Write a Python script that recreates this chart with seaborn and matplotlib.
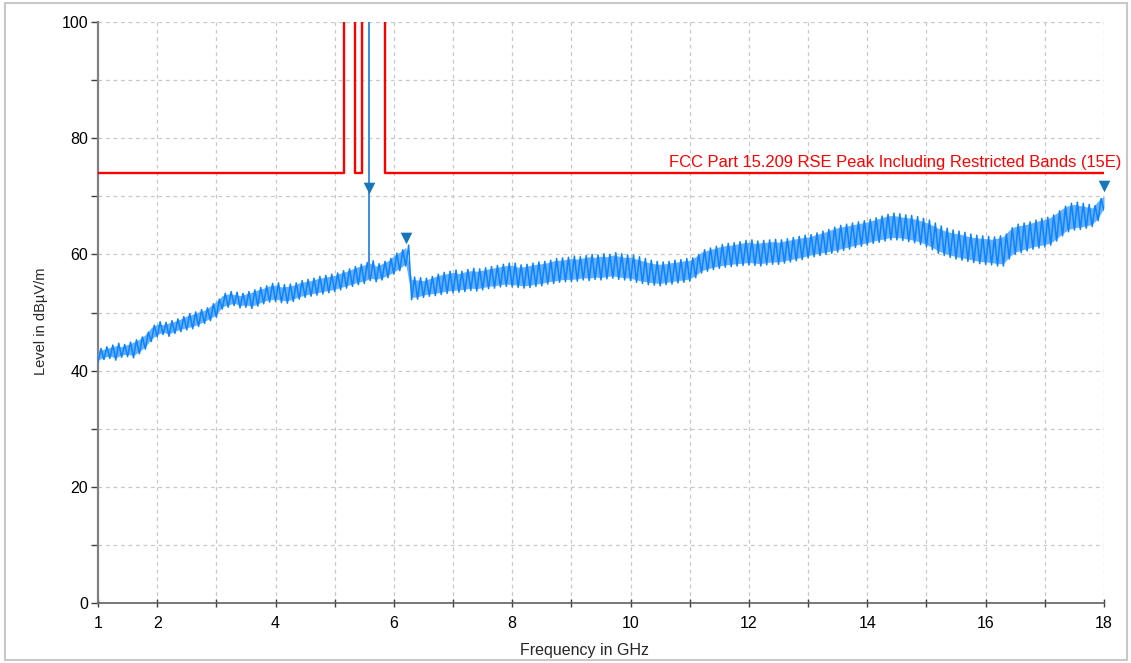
import numpy as np
import matplotlib
matplotlib.use("Agg")
import matplotlib.pyplot as plt
import seaborn as sns
from matplotlib.patches import Rectangle

# ---------------- data ----------------
# sweep grid (GHz, 0.1 GHz bins) and the per-bin min / max of the trace
freq_ghz = np.round(np.arange(1.0, 18.0001, 0.1), 1)
level_min = [
    41.4, 41.9, 42.1, 41.8, 42.3, 42.4, 42.2, 42.9, 43.7, 45.0,
    45.8, 46.2, 45.9, 46.4, 46.7, 47.0, 47.2, 47.6, 48.1, 48.6,
    49.2, 50.6, 50.9, 51.2, 50.8, 50.9, 50.7, 51.1, 51.5, 51.8,
    51.9, 51.7, 51.6, 51.9, 52.3, 52.6, 52.8, 53.0, 53.2, 53.4,
    53.6, 53.9, 54.2, 54.5, 54.8, 55.0, 55.5, 55.3, 55.6, 56.0,
    56.6, 57.2, 58.0, 52.2, 52.3, 52.6, 52.8, 52.9, 53.1, 53.3,
    53.4, 53.5, 53.6, 53.8, 53.7, 53.9, 54.1, 54.2, 54.4, 54.5,
    54.4, 54.3, 54.2, 54.3, 54.5, 54.6, 54.9, 55.0, 55.2, 55.3,
    55.3, 55.4, 55.6, 55.5, 55.7, 55.6, 55.8, 55.9, 55.7, 55.6,
    55.5, 55.2, 55.0, 54.8, 54.7, 54.6, 54.8, 54.9, 55.1, 55.2,
    55.4, 56.0, 56.8, 57.1, 57.4, 57.6, 57.8, 57.9, 58.0, 58.1,
    58.2, 58.1, 58.0, 58.2, 58.3, 58.3, 58.5, 58.7, 58.9, 59.1,
    59.4, 59.6, 59.8, 60.0, 60.2, 60.4, 60.7, 60.9, 61.2, 61.4,
    61.6, 61.9, 62.1, 62.3, 62.5, 62.5, 62.4, 62.2, 62.0, 61.7,
    61.3, 60.8, 60.2, 59.8, 59.5, 59.2, 59.0, 58.8, 58.6, 58.4,
    58.3, 58.2, 58.0, 58.0, 59.2, 60.0, 60.3, 60.6, 60.9, 61.1,
    61.3, 61.6, 62.3, 63.2, 63.9, 64.2, 64.3, 64.5, 64.8, 65.8,
    67.6,
]
level_max = [
    43.8, 44.1, 44.4, 44.7, 44.5, 44.9, 45.3, 45.8, 46.6, 47.8,
    48.4, 48.3, 48.6, 48.9, 49.3, 49.8, 50.1, 50.5, 50.8, 51.5,
    52.3, 53.3, 53.6, 53.5, 53.3, 53.6, 53.9, 54.3, 54.6, 55.0,
    55.1, 54.8, 54.9, 55.1, 55.5, 55.7, 55.9, 56.2, 56.4, 56.6,
    56.8, 57.2, 57.5, 57.9, 58.3, 58.6, 58.9, 58.4, 58.8, 59.3,
    60.2, 60.8, 61.6, 56.1, 56.0, 55.9, 56.2, 56.6, 56.9, 57.1,
    57.3, 57.1, 57.4, 57.6, 57.5, 57.7, 57.9, 58.1, 58.3, 58.5,
    58.5, 58.2, 58.3, 58.5, 58.7, 58.8, 59.0, 59.3, 59.4, 59.5,
    59.7, 59.6, 59.8, 60.0, 59.9, 60.1, 60.0, 60.3, 60.1, 59.9,
    59.9, 59.6, 59.3, 59.0, 58.8, 58.7, 58.8, 59.0, 59.1, 59.3,
    59.4, 60.0, 60.8, 61.1, 61.4, 61.7, 61.9, 62.0, 62.2, 62.4,
    62.5, 62.3, 62.4, 62.5, 62.6, 62.5, 62.7, 62.9, 63.1, 63.3,
    63.4, 63.7, 64.0, 64.3, 64.7, 65.0, 65.2, 65.4, 65.6, 65.8,
    66.0, 66.3, 66.6, 66.9, 67.1, 67.0, 66.8, 66.7, 66.5, 66.2,
    65.9, 65.4, 64.9, 64.5, 64.2, 64.0, 63.8, 63.5, 63.3, 63.2,
    63.1, 63.0, 63.2, 63.5, 64.6, 65.2, 65.4, 65.6, 65.9, 66.2,
    66.4, 66.8, 67.5, 68.3, 68.8, 69.0, 68.8, 68.6, 68.4, 69.6,
    70.5,
]

# FCC Part 15.209 limit (restricted-band mask)
limit_freq = [1.0, 5.15, 5.15, 5.35, 5.35, 5.46, 5.46, 5.85, 5.85, 18.0]
limit_level = [74, 74, 110, 110, 74, 74, 110, 110, 74, 74]
limit_label = "FCC Part 15.209 RSE Peak Including Restricted Bands (15E)"

# peak markers
marker_freq = [5.58, 6.2, 18.0]
marker_level = [70.2, 61.6, 70.5]

# carrier spike (saturated, runs off the top of the plot)
carrier_freq = 5.58
carrier_base = 56.0
carrier_top = 100

x_ticks = list(range(1, 19))
x_tick_labels = ["1", "2", "", "4", "", "6", "", "8", "", "10", "", "12", "", "14", "", "16", "", "18"]
y_ticks = [0, 10, 20, 30, 40, 50, 60, 70, 80, 90, 100]
y_tick_labels = ["0", "", "20", "", "40", "", "60", "", "80", "", "100"]

# ---------------- plot ----------------
sns.set_theme(style="white")
plt.rcParams["font.family"] = ["Liberation Sans", "DejaVu Sans"]

W, H = 1131, 663
fig = plt.figure(figsize=(W / 100, H / 100), dpi=100)
ax = fig.add_axes([98 / W, 1 - 603 / H, (1104 - 98) / W, (603 - 22) / H])

trace_color = "#0A84FF"
trace_light = "#5AA8FF"
red = "#FF0000"

# grid
for xv in x_ticks[1:]:
    ax.axvline(xv, color="#c8c8c8", lw=0.9, ls=(0, (3, 3)), zorder=0)
for yv in y_ticks[1:]:
    ax.axhline(yv, color="#c8c8c8", lw=0.9, ls=(0, (3, 3)), zorder=0)

# limit line
sns.lineplot(x=limit_freq, y=limit_level, ax=ax, color=red, lw=1.7, zorder=3,
             estimator=None, sort=False)
ax.text((1121 - 98) / 1006, 74.5, limit_label, transform=ax.get_yaxis_transform(),
        ha="right", va="bottom", color=red, fontsize=11.9, clip_on=False)

# trace: min/max per sweep bin, drawn as the receiver does (alternating min -> max strokes)
half_bin = 0.05
trace_x = np.ravel(np.column_stack([freq_ghz, freq_ghz + half_bin]))[:-1]
trace_y = np.ravel(np.column_stack([level_min, level_max]))[:-1]
trace_x[-1] = freq_ghz[-1]
ax.fill_between(freq_ghz, np.array(level_min) + 0.4, np.array(level_max) - 0.4,
                color=trace_light, lw=0, zorder=4, alpha=0.9)
sns.lineplot(x=trace_x, y=trace_y, ax=ax, color=trace_color, lw=1.1,
             estimator=None, sort=False, zorder=5)
ax.plot([carrier_freq, carrier_freq], [carrier_base, carrier_top],
        color="#3A8EE6", lw=1.4, zorder=5)

# markers
ax.scatter(marker_freq, [m + 1.3 for m in marker_level], marker="v", s=70,
           color="#1577B9", zorder=6, clip_on=False, linewidths=0)

ax.set_xlim(1, 18)
ax.set_ylim(0, 100)
ax.set_xticks(x_ticks)
ax.set_xticklabels(x_tick_labels)
ax.set_yticks(y_ticks)
ax.set_yticklabels(y_tick_labels)

for s in ["top", "right"]:
    ax.spines[s].set_visible(False)
ax.spines["left"].set_color("#808080")
ax.spines["left"].set_linewidth(1.6)
ax.spines["bottom"].set_color("#606060")
ax.spines["bottom"].set_linewidth(1.2)

ax.tick_params(axis="x", direction="inout", length=6, width=1, color="#404040",
               labelsize=11.5, pad=6, labelcolor="black")
ax.tick_params(axis="y", direction="out", length=5, width=1, color="#404040",
               labelsize=11.5, pad=2, labelcolor="black")
ax.tick_params(left=True, bottom=True)

ax.set_xlabel("Frequency in GHz", fontsize=11.5)
ax.xaxis.set_label_coords((584 - 98) / 1006, -(643 - 603) / 581)
ax.set_ylabel("Level in dBµV/m", fontsize=10.5)
ax.yaxis.set_label_coords(-(98 - 48) / 1006, (603 - 321) / 581)

ax.set_facecolor("white")
fig.patch.set_facecolor("white")
fig.patches.append(Rectangle((5 / W, 1 - 660 / H), (1127 - 5) / W, (660 - 3) / H,
                             transform=fig.transFigure, fill=False,
                             edgecolor="#c8c8c8", lw=1.5))

fig.savefig("out.png", dpi=100)
